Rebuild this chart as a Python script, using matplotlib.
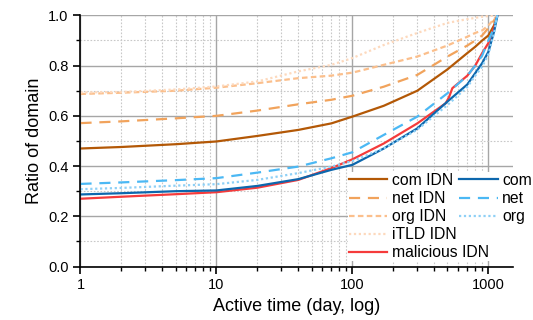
import numpy as np
import matplotlib
matplotlib.use('Agg')
import matplotlib.pyplot as plt
from matplotlib.ticker import LogLocator, MultipleLocator, FixedLocator, FormatStrFormatter

plt.rcParams['font.family'] = ['Liberation Sans', 'DejaVu Sans']

# active time (days) and cumulative ratio of domains
days = [1, 2, 5, 10, 20, 40, 70, 100, 170, 300, 500, 700, 800, 900, 1000, 1100, 1165]
com_idn = [0.470, 0.476, 0.487, 0.498, 0.520, 0.544, 0.570, 0.597, 0.640, 0.700, 0.785,
           0.850, 0.875, 0.900, 0.920, 0.960, 1.0]
net_idn = [0.571, 0.578, 0.590, 0.600, 0.621, 0.646, 0.664, 0.680, 0.716, 0.763, 0.836,
           0.880, 0.900, 0.920, 0.950, 0.980, 1.0]
org_idn = [0.687, 0.692, 0.700, 0.712, 0.730, 0.750, 0.760, 0.772, 0.803, 0.836, 0.880,
           0.915, 0.930, 0.940, 0.960, 0.985, 1.0]
itld_idn = [0.693, 0.695, 0.705, 0.717, 0.737, 0.777, 0.803, 0.830, 0.882, 0.930, 0.970,
            0.985, 0.990, 0.995, 0.997, 0.999, 1.0]
com = [0.287, 0.292, 0.300, 0.303, 0.321, 0.348, 0.385, 0.405, 0.470, 0.550, 0.657,
       0.725, 0.770, 0.810, 0.855, 0.935, 1.0]
net = [0.329, 0.335, 0.344, 0.352, 0.374, 0.398, 0.431, 0.455, 0.524, 0.597, 0.690,
       0.760, 0.800, 0.840, 0.900, 0.950, 1.0]
org = [0.308, 0.313, 0.322, 0.328, 0.345, 0.372, 0.398, 0.420, 0.470, 0.545, 0.643,
       0.715, 0.760, 0.796, 0.845, 0.930, 1.0]

mal_days = [1, 2, 5, 10, 20, 40, 70, 100, 170, 300, 485, 513, 543, 700, 800, 900, 1000, 1100, 1165]
malicious = [0.270, 0.278, 0.288, 0.296, 0.314, 0.345, 0.392, 0.427, 0.490, 0.570, 0.650,
             0.674, 0.710, 0.760, 0.800, 0.850, 0.890, 0.950, 1.0]

fig = plt.figure(figsize=(5.33, 3.2), dpi=100)
ax = fig.add_axes([0.151, 0.167, 0.811, 0.785])

lw = 1.6
ax.plot(days, com_idn, color='#b35806', lw=lw, label='com IDN')
ax.plot(days, net_idn, color='#f1a35c', lw=lw, ls=(0, (5, 3.5)), label='net IDN')
ax.plot(days, org_idn, color='#fbbf8c', lw=lw, ls=(0, (2.5, 1.5)), label='org IDN')
ax.plot(days, itld_idn, color='#fdd9bd', lw=lw, ls=(0, (1, 1.2)), label='iTLD IDN')
ax.plot(mal_days, malicious, color='#f53b3b', lw=lw, label='malicious IDN')
ax.plot(days, com, color='#0d67ad', lw=lw, label='com')
ax.plot(days, net, color='#4bb8f4', lw=lw, ls=(0, (5, 3.5)), label='net')
ax.plot(days, org, color='#8ed0f6', lw=lw, ls=(0, (1, 1.2)), label='org')

ax.set_xscale('log')
ax.set_xlim(1, 1510)
ax.set_ylim(0, 1.0)
ax.xaxis.set_major_locator(FixedLocator([1, 10, 100, 1000]))
ax.xaxis.set_minor_locator(LogLocator(base=10, subs=np.arange(2, 10), numticks=20))
ax.set_xticklabels(['1', '10', '100', '1000'])
ax.yaxis.set_major_locator(MultipleLocator(0.2))
ax.yaxis.set_minor_locator(MultipleLocator(0.1))
ax.yaxis.set_major_formatter(FormatStrFormatter('%.1f'))

ax.grid(which='major', color='#a6a6a6', lw=1.0, ls='-')
ax.grid(which='minor', color='#c8c8c8', lw=0.8, ls=(0, (1.5, 1.5)))
ax.set_axisbelow(True)

for s in ['top', 'right']:
    ax.spines[s].set_visible(False)
for s in ['left', 'bottom']:
    ax.spines[s].set_linewidth(1.2)

ax.tick_params(which='major', direction='out', length=5, width=1.2, labelsize=10.5, colors='black')
ax.tick_params(which='minor', direction='out', length=3, width=1.0)

ax.set_xlabel('Active time (day, log)', fontsize=13)
ax.set_ylabel('Ratio of domain', fontsize=13)

handles, labels = ax.get_legend_handles_labels()
# pad second column with empty entries so the first column holds five items
blank = plt.Line2D([], [], color='none')
leg = ax.legend(handles + [blank, blank], labels + ['', ''], ncol=2,
                loc='lower left', bbox_to_anchor=(0.601, -0.010),
                fontsize=11.3, frameon=True, framealpha=1, edgecolor='none',
                handlelength=2.45, handletextpad=0.3, columnspacing=-1.9,
                labelspacing=0.2, borderpad=0.05)
leg.set_zorder(2.2)

fig.savefig('out.png', dpi=100)
